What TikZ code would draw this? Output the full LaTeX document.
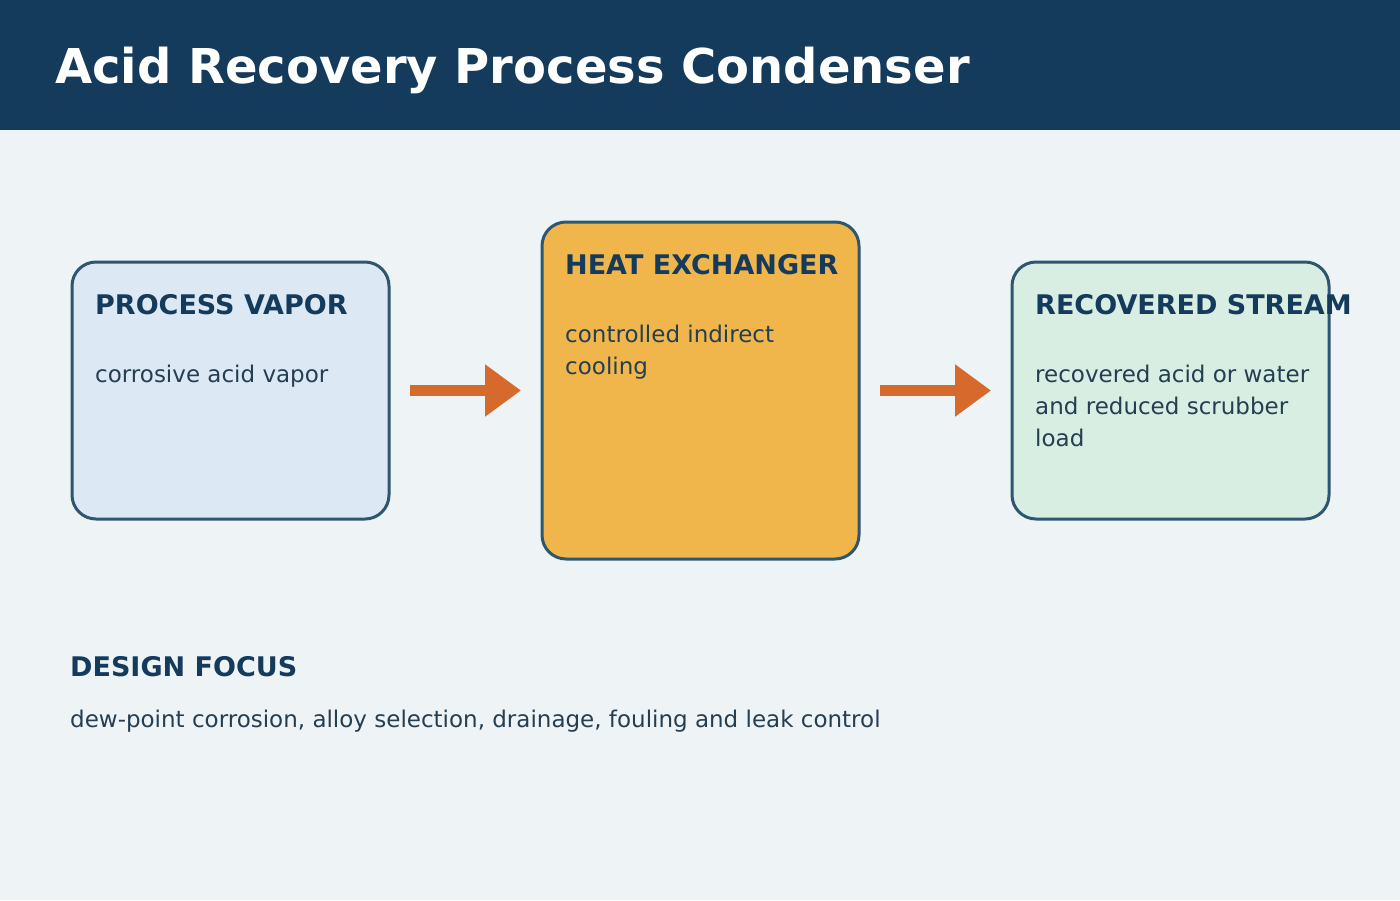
\documentclass[tikz,border=0pt]{standalone}
\usepackage{fontspec}
\setmainfont{DejaVu Sans}
\usepackage{tikz}
\usetikzlibrary{arrows.meta,positioning}
\usepackage{xcolor}
\definecolor{hdrblue}{HTML}{143A5C}
\definecolor{pagebg}{HTML}{EEF3F6}
\definecolor{edgeblue}{HTML}{2F566F}
\definecolor{bodytxt}{HTML}{243E52}
\definecolor{vaporfill}{HTML}{DCE9F4}
\definecolor{hxfill}{HTML}{F1B64B}
\definecolor{recfill}{HTML}{D8EEE2}
\definecolor{flowor}{HTML}{D66A2C}
\tikzset{
  stage/.style  ={draw=edgeblue, rounded corners=24pt, line width=3pt,
                  minimum width=317pt, inner sep=0pt},
  headtxt/.style={anchor=base west, inner sep=0pt, text=hdrblue,
                  font=\fontsize{27}{30}\selectfont\bfseries},
  bodytx/.style ={anchor=base west, inner sep=0pt, text=bodytxt,
                  align=left, font=\fontsize{23}{32}\selectfont},
  flow/.style   ={-{Triangle[length=36pt,width=50pt]}, line width=11pt,
                  flowor, shorten <=19.5pt, shorten >=19.5pt},
}

\begin{document}
\begin{tikzpicture}[x=1pt,y=-1pt]
  \useasboundingbox (0,0) rectangle (1400,900);
  \fill[pagebg] (0,0) rectangle (1400,900);
  \fill[hdrblue] (0,0) rectangle (1400,130);
  \node[anchor=base west, inner sep=0pt, text=white,
        font=\fontsize{48}{56}\selectfont\bfseries] (title) at (55,83)
    {Acid Recovery Process Condenser};

  % stages
  \node[stage, fill=vaporfill, minimum height=257pt] (vapor) at (230.5,390.5) {};
  \node[stage, fill=hxfill, minimum height=337pt] (hx) at (700.5,390.5) {};
  \node[stage, fill=recfill, minimum height=257pt] (rec) at (1170.5,390.5) {};

  % base of a multi-line node sits on its last line
  \node[headtxt] (vaporT) at (95,314) {PROCESS VAPOR};
  \node[bodytx] (vaporB) at (95,382) {corrosive acid vapor};
  \node[headtxt] (hxT) at (565,274) {HEAT EXCHANGER};
  \node[bodytx] (hxB) at (565,374) {controlled indirect\\cooling};
  \node[headtxt] (recT) at (1035,314) {RECOVERED STREAM};
  \node[bodytx] (recB) at (1035,446)
    {recovered acid or water\\and reduced scrubber\\load};

  \draw[flow] (vapor.east) -- (hx.west);
  \draw[flow] (hx.east) -- (rec.west);

  \node[headtxt] (focusT) at (70,676) {DESIGN FOCUS};
  \node[bodytx] (focusB) at (70,727)
    {dew-point corrosion, alloy selection, drainage, fouling and leak control};
\end{tikzpicture}
\end{document}
